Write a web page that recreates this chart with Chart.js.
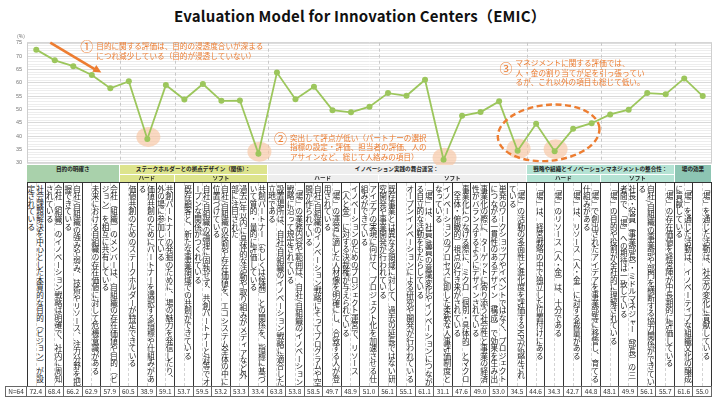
<!DOCTYPE html>
<html>
<head>
<meta charset="utf-8">
<script src="https://cdn.jsdelivr.net/npm/chart.js@4.4.0/dist/chart.umd.min.js"></script>
<style>
body { margin: 0; width: 720px; height: 399px; position: relative; background: #fff; overflow: hidden;
       font-family: "Noto Sans CJK JP", sans-serif; }
#title { position: absolute; top: 5px; left: 0; width: 720px; text-align: center; font-weight: bold;
         font-size: 15px; color: #111; letter-spacing: 0.2px; }
#unit { position: absolute; left: 17px; top: 32px; font-size: 5px; color: #666; }
#chart { position: absolute; left: 0; top: 0; }
.cell { position: absolute; box-sizing: border-box; overflow: hidden; }
.head { font-size: 5.6px; font-weight: bold; color: #222; text-align: center;
        border-right: 1px solid #fff; border-bottom: 1px solid #fff; white-space: nowrap; }
.txt { writing-mode: vertical-rl; font-size: 7.6px; line-height: 8.6px; color: #222; padding: 2px 1px 0 0;
       border-right: 1px solid #333; border-top: 1px solid #333; background: #fff; }
.txt::after { content: ''; position: absolute; left: 50%; top: 0; bottom: 0; border-left: 1px dashed #d4d4d4; }
.num { font-size: 6.5px; color: #333; text-align: center; line-height: 9px; border: 1px solid #666;
       border-left-width: 0; }
</style>
</head>
<body>
<div id="title">Evaluation Model for Innovation Centers（EMIC）</div>
<canvas id="chart" width="720" height="171"></canvas>
<div id="unit">(%)</div>
<div id="table"></div>
<script>
var statements = [
    '社会課題解決を中心とした本質的な目的（ビジョン）が設定されている',
    '会社（組織）のイノベーション戦略は明確で、社内に周知されている',
    '自社/自組織の強みや弱み、技術やリソース、注力分野を把握できている',
    '未来における自組織の存在価値に対して危機意識がある',
    '会社（組織）のメンバーは、自組織の存在価値や目的（ビジョン）を相互に共有している',
    '価値共創のためのステークホルダーが特定できている',
    '価値共創のためにパートナーを選択する指標や仕組みがある',
    '共創パートナーの発掘のために、場の魅力を発信したり、外の場に参加している',
    '既存顧客と、新たな事業領域での共創ができている',
    '自社/自組織の論理に固執せず、共創パートナーと対等でオープンな関係がつくれている',
    '自社/自組織の役割や存在価値を、エコシステム全体の中に位置づけている',
    '過去1年以内に具体的な活動や取り組みがメディアなど外部に注目された',
    '共創パートナー（もしくは候補）との関係を、指標に基づいて質的・量的に評価している',
    '設置場所は、自社/自組織のイノベーション戦略に適合した立地である',
    '「場」の業務内容や範囲は、自社/自組織のイノベーション戦略に沿って規定されている',
    '自社/自組織のイノベーション戦略にそってプログラムや空間が作られている',
    '「場」の運営に適した人材像を明確にし、合致する人が登用されている',
    'イノベーションのためのプロジェクト運営で、リソース（人と金）に対する決裁権が与えられている',
    'アイデアの実現に向けて、プロジェクト化を加速させる仕組みができている',
    '既存事業とは異なる領域に対して、過去の延長ではない研究開発や事業開発が行われている',
    'オープンイノベーションによる研究や開発が行われている',
    '「場」は、社員/職員の意識変化やイノベーションにつながる自立的な活動をもたらしている',
    'イノベーションのプロセスに即した柔軟な人事評価制度となっている',
    '事業化につなげる際に、ミクロ（個別・具体的）とマクロ（全体・俯瞰的）視点の行き来がされている',
    '事業化の際に、ターゲットに寄り添う社会性と事業の経済性がバランスするようにデザインされている',
    '単発のワークショップやイベントではなく、プロジェクトにつながる一貫性のあるデザイン（構成）で効果を生み出している',
    '「場」の活動の多面性と進化度を評価するKPIが設定されている',
    '「場」は、経営戦略の中で独立した位置付けにある',
    '「場」のリソース（人・金）は、十分である',
    '「場」は、リソース（人・金）に対する裁量がある',
    '「場」で創出されたアイデアを事業部等に移管し、育てる仕組みがある',
    '「場」の目的や役割が全社的に理解されている',
    '社長・役員（事業部長）・ミドルマネジャー（部長）の三者間で、「場」への期待は一致している',
    '自社/自組織の事業部や部門を横断する協力関係ができている',
    '「場」の存在価値を経営陣が中長期的に評価している',
    '「場」を通じた活動は、イノベーティブな組織文化の醸成に貢献している',
    '「場」を通じた活動は、社会の変化に貢献している'
];
var scores = [72.4, 68.4, 66.2, 62.9, 57.9, 60.5, 38.9, 59.1, 53.7, 59.5, 53.2, 53.3, 33.4,
              63.8, 53.8, 58.5, 49.7, 48.9, 51.0, 56.1, 55.1, 61.1, 31.1, 47.6, 49.0, 53.0, 34.5,
              44.6, 34.3, 42.7, 44.8, 48.1, 49.9, 56.1, 55.7, 61.6, 55.0];
var sampleLabel = 'N=64';

var groupNames = ['目的の明確さ', 'ステークホルダーとの拠点デザイン（関係）：', 'イノベーション実践の舞台運営：',
                  '戦略や組織とイノベーションマネジメントの整合性：', '場の効果'];
var groupSizes = [5, 8, 14, 8, 2];
var subNames = ['', 'ハード', 'ソフト', 'ハード', 'ソフト', 'ハード', 'ソフト', ''];
var subSizes = [5, 3, 5, 6, 8, 4, 4, 2];
var subGroup = [0, 1, 1, 2, 2, 3, 3, 4];
var lowPoints = [6, 12, 22, 26, 28];

var groupColors = ['#a9d1ab', '#dde48d', '#eeeeee', '#b5e3d4', '#8dc5b3'];
var orange = '#ed7d31';

var decor = {
    id: 'decor',
    beforeDatasetsDraw: function (chart) {
        var c = chart.ctx, a = chart.chartArea, x = chart.scales.x, y = chart.scales.y;
        c.save();
        c.strokeStyle = '#cfcfcf';
        c.lineWidth = 1;
        c.strokeRect(a.left + 0.5, a.top + 0.5, a.right - a.left - 1, a.bottom - a.top);
        var w = (x.right - x.left) / statements.length, pos = 0;
        c.setLineDash([3, 3]);
        c.strokeStyle = '#c8c8c8';
        subSizes.slice(0, -1).forEach(function (n) {
            pos += n;
            var px = Math.round(x.left + pos * w) + 0.5;
            c.beginPath(); c.moveTo(px, a.top); c.lineTo(px, a.bottom); c.stroke();
        });
        c.setLineDash([]);
        c.fillStyle = 'rgba(247, 196, 162, 0.65)';
        lowPoints.forEach(function (i) {
            c.beginPath();
            c.ellipse(x.getPixelForValue(i) + 1, y.getPixelForValue(scores[i]) - 2, 12, 10, 0, 0, Math.PI * 2);
            c.fill();
        });
        c.restore();
    },
    afterDatasetsDraw: function (chart) {
        var c = chart.ctx, x = chart.scales.x, y = chart.scales.y;
        c.save();
        // arrow for (1)
        var x0 = x.getPixelForValue(0) + 14, y0 = y.getPixelForValue(75);
        var x1 = x.getPixelForValue(4) - 9, y1 = y.getPixelForValue(63.8);
        c.strokeStyle = orange; c.fillStyle = orange; c.lineWidth = 2.6;
        c.beginPath(); c.moveTo(x0, y0); c.lineTo(x1 - 5, y1 - 2.5); c.stroke();
        var ang = Math.atan2(y1 - y0, x1 - x0);
        c.beginPath();
        c.moveTo(x1, y1);
        c.lineTo(x1 - 9 * Math.cos(ang - 0.45), y1 - 9 * Math.sin(ang - 0.45));
        c.lineTo(x1 - 9 * Math.cos(ang + 0.45), y1 - 9 * Math.sin(ang + 0.45));
        c.closePath(); c.fill();

        // dashed ring for (3)
        var ex = (x.getPixelForValue(26) + x.getPixelForValue(30)) / 2 - 6;
        c.setLineDash([6, 3.5]);
        c.lineWidth = 2.4;
        c.beginPath();
        c.ellipse(ex, y.getPixelForValue(41.2), 51, 28, -0.1, 0, Math.PI * 2);
        c.stroke();
        c.setLineDash([]);

        var notes = [
            [x.getPixelForValue(2) + 7, y.getPixelForValue(73.6), 0,
             ['目的に関する評価は、目的の浸透度合いが深まる', 'につれ減少している（目的が浸透していない）']],
            [x.getPixelForValue(13) - 3, y.getPixelForValue(39.4), 0,
             ['突出して評点が低い（パートナーの選択', '指標の設定・評価、担当者の評価、人の', 'アサインなど、総じて人絡みの項目）']],
            [x.getPixelForValue(26) - 18, y.getPixelForValue(67.3), 1,
             ['マネジメントに関する評価では、', '人・金の割り当てが足を引っ張ってい', 'るが、これ以外の項目も総じて低い。']]
        ];
        var marks = ['①', '②', '③'];
        c.textBaseline = 'middle';
        notes.forEach(function (n, k) {
            c.font = '13px "Noto Sans CJK JP"';
            c.fillText(marks[k], n[0], n[1] + n[2] * 5);
            c.font = '7.6px "Noto Sans CJK JP"';
            n[3].forEach(function (t, j) {
                c.fillText(t, n[0] + 16, n[1] + j * 9.6);
            });
        });
        c.restore();
    }
};

var chart = new Chart(document.getElementById('chart').getContext('2d'), {
    type: 'line',
    data: {
        labels: statements.map(function (s, i) { return String(i + 1); }),
        datasets: [{
            data: scores,
            borderColor: '#9cc65c',
            backgroundColor: '#9cc65c',
            borderWidth: 1.8,
            pointRadius: 3,
            pointBorderWidth: 0,
            tension: 0
        }]
    },
    options: {
        responsive: false,
        animation: false,
        layout: { autoPadding: false, padding: { left: 0, right: 8, top: 42.7, bottom: 3 } },
        plugins: { legend: { display: false }, tooltip: { enabled: false } },
        scales: {
            x: { display: false, offset: true },
            y: {
                min: 30, max: 75,
                afterFit: function (s) { s.width = 27; },
                border: { display: false },
                grid: {
                    drawTicks: false,
                    color: function (ctx) { return ctx.tick.value % 5 === 0 ? '#d9d9d9' : '#ededed'; }
                },
                ticks: {
                    stepSize: 1, autoSkip: false, padding: 5, color: '#777',
                    font: { size: 5.5, family: 'Liberation Sans' },
                    callback: function (v) { return v % 5 === 0 ? v : ''; }
                }
            }
        }
    },
    plugins: [decor]
});

// table under the chart, aligned on the category scale
var xs = chart.scales.x;
var w = (xs.right - xs.left) / statements.length;
var table = document.getElementById('table');
function box(cls, left, top, width, height, html, bg) {
    var d = document.createElement('div');
    d.className = 'cell ' + cls;
    d.style.left = left + 'px'; d.style.top = top + 'px';
    d.style.width = width + 'px'; d.style.height = height + 'px';
    if (bg) d.style.background = bg;
    d.innerHTML = html;
    table.appendChild(d);
    return d;
}
var start = 0;
groupNames.forEach(function (g, k) {
    var spans = subNames.filter(function (s, j) { return subGroup[j] === k; });
    var full = spans.length === 1 && spans[0] === '';
    box('head', xs.left + start * w, 165, groupSizes[k] * w, full ? 18 : 9.5, g, groupColors[k]).style.lineHeight = '9px';
    start += groupSizes[k];
});
start = 0;
subNames.forEach(function (s, j) {
    if (s) box('head', xs.left + start * w, 174.5, subSizes[j] * w, 8.5, s, groupColors[subGroup[j]]).style.lineHeight = '7.5px';
    start += subSizes[j];
});
statements.forEach(function (s, i) {
    var d = box('txt', xs.left + i * w, 182, w, 204, s);
    if (i === 0) d.style.borderLeft = '1px solid #333';
    box('num', xs.left + i * w, 386, w, 11, scores[i].toFixed(1));
});
var n = box('num', 5, 386, xs.left - 5, 11, sampleLabel);
n.style.borderLeftWidth = '1px';
</script>
</body>
</html>
